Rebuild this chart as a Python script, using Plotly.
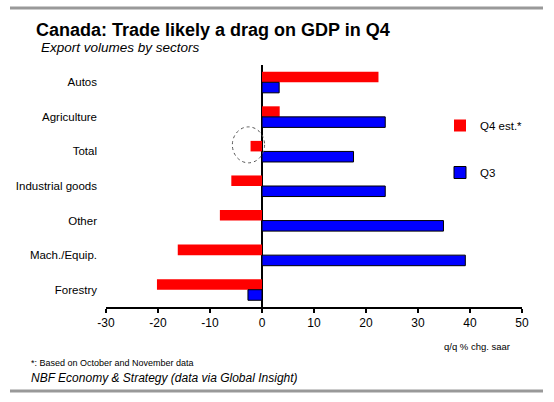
import plotly.graph_objects as go

categories = ["Autos", "Agriculture", "Total", "Industrial goods", "Other", "Mach./Equip.", "Forestry"]
q4_est = [22.4, 3.4, -2.2, -5.9, -8.1, -16.2, -20.2]
q3 = [3.3, 23.7, 17.6, 23.7, 34.9, 39.1, -2.7]
x_ticks = [-30, -20, -10, 0, 10, 20, 30, 40, 50]

W, H = 554, 402
L, R, T, B = 106, 32, 65, 95
pw, ph = W - L - R, H - T - B

def px(x):
    return (x - L) / pw

def py(y):
    return (H - B - y) / ph

SANS = "Liberation Sans, Arial, sans-serif"

fig = go.Figure()
fig.add_trace(go.Bar(
    y=categories, x=q4_est, orientation="h", name="Q4 est.*",
    marker=dict(color="#FF0000", line=dict(width=0)),
    legendgroup="a",
))
fig.add_trace(go.Bar(
    y=categories, x=q3, orientation="h", name="Q3",
    marker=dict(color="#0000FF", line=dict(color="black", width=1)),
    legendgroup="b",
))

ti = categories.index("Total")
tv = q4_est[ti]
fig.add_shape(type="circle", xref="x", yref="y",
              x0=tv - 3.5, x1=tv + 2.7, y0=ti - 0.71, y1=ti + 0.33,
              line=dict(color="#555555", width=1, dash="dot"))

line_col = "#999999"
fig.add_shape(type="line", xref="paper", yref="paper",
              x0=px(10), x1=px(543), y0=py(8), y1=py(8),
              line=dict(color=line_col, width=3))
fig.add_shape(type="line", xref="paper", yref="paper",
              x0=px(10), x1=px(543), y0=py(391), y1=py(391),
              line=dict(color=line_col, width=3))

fig.add_annotation(text="<b>Canada: Trade likely a drag on GDP in Q4</b>",
                   xref="paper", yref="paper", x=px(34), y=py(30),
                   xanchor="left", yanchor="middle", showarrow=False,
                   font=dict(family=SANS, size=18, color="black"))
fig.add_annotation(text="<i>Export volumes by sectors</i>",
                   xref="paper", yref="paper", x=px(39), y=py(48),
                   xanchor="left", yanchor="middle", showarrow=False,
                   font=dict(family=SANS, size=13.5, color="black"))
fig.add_annotation(text="q/q % chg. saar",
                   xref="paper", yref="paper", x=px(512), y=py(346),
                   xanchor="right", yanchor="middle", showarrow=False,
                   font=dict(family=SANS, size=9.5, color="black"))
fig.add_annotation(text="*: Based on October and November data",
                   xref="paper", yref="paper", x=px(29), y=py(363),
                   xanchor="left", yanchor="middle", showarrow=False,
                   font=dict(family=SANS, size=9, color="black"))
fig.add_annotation(text="<i>NBF Economy & Strategy (data via Global Insight)</i>",
                   xref="paper", yref="paper", x=px(29), y=py(378),
                   xanchor="left", yanchor="middle", showarrow=False,
                   font=dict(family=SANS, size=12, color="black"))

fig.update_layout(
    width=W, height=H,
    margin=dict(l=L, r=R, t=T, b=B, pad=0, autoexpand=False),
    paper_bgcolor="white", plot_bgcolor="white",
    barmode="group", bargap=0.39, bargroupgap=0,
    font=dict(family=SANS, size=11.5, color="black"),
    showlegend=True,
    legend=dict(x=px(440), y=py(111), xanchor="left", yanchor="top",
                traceorder="grouped", tracegroupgap=28,
                font=dict(family=SANS, size=11.5, color="black"),
                bgcolor="rgba(0,0,0,0)", itemclick=False),
    xaxis=dict(range=[-30, 50], tickvals=x_ticks, ticktext=[str(v) for v in x_ticks],
               showgrid=False, zeroline=True, zerolinecolor="black", zerolinewidth=2,
               showline=True, linecolor="black", linewidth=1.5,
               ticks="outside", ticklen=4, tickwidth=1.5, tickcolor="black",
               automargin=False,
               tickfont=dict(family=SANS, size=12, color="black"), fixedrange=True),
    yaxis=dict(autorange="reversed", showgrid=False, showline=False, ticks="",
               zeroline=False, ticklabelstandoff=8, automargin=False,
               tickfont=dict(family=SANS, size=11.5, color="black"), fixedrange=True),
)

fig.write_html("out.html", config={"displayModeBar": False},
               post_script="document.body.style.margin='0';")
